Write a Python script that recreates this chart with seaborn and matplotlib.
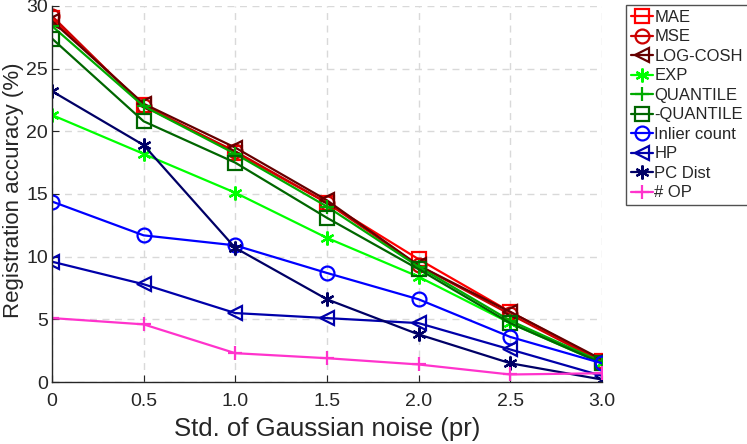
import matplotlib
matplotlib.use("Agg")
import matplotlib.pyplot as plt
import seaborn as sns
import pandas as pd

# ==============================
# DADOS
# ==============================
noise = [0, 0.5, 1.0, 1.5, 2.0, 2.5, 3.0]

mae = [29.0, 22.1, 18.3, 14.3, 9.8, 5.6, 1.7]
mse = [29.2, 22.0, 18.4, 14.3, 9.3, 5.4, 1.6]
log_cosh = [28.8, 22.2, 18.7, 14.5, 9.3, 5.6, 1.8]
exp_loss = [21.3, 18.2, 15.1, 11.5, 8.4, 4.7, 1.5]
quantile = [28.4, 22.0, 18.2, 14.0, 9.2, 4.9, 1.6]
neg_quantile = [27.4, 20.8, 17.5, 13.1, 9.0, 4.7, 1.5]
inlier_count = [14.4, 11.7, 10.9, 8.7, 6.6, 3.6, 1.5]
hp = [9.6, 7.8, 5.5, 5.1, 4.7, 2.6, 0.5]
pc_dist = [23.2, 18.9, 10.7, 6.6, 3.8, 1.5, 0.2]
num_op = [5.1, 4.6, 2.3, 1.9, 1.4, 0.6, 0.7]

labels = ["MAE", "MSE", "LOG-COSH", "EXP", "QUANTILE", "-QUANTILE",
          "Inlier count", "HP", "PC Dist", "# OP"]
series = [mae, mse, log_cosh, exp_loss, quantile, neg_quantile,
          inlier_count, hp, pc_dist, num_op]

# ==============================
# ESTILO
# ==============================
asterisk = (6, 2, 0)
colors = ["#FF0000", "#CC0000", "#660000", "#00FF00", "#00AA00", "#006600",
          "#0000FF", "#0000AA", "#000066", "#FF33CC"]
markers = ["s", "o", "<", asterisk, "+", "s", "o", "<", asterisk, "+"]

sns.set_style("ticks")
plt.rcParams["font.family"] = ["Liberation Sans", "DejaVu Sans"]

fig = plt.figure(figsize=(7.47, 4.44), dpi=100)
ax = fig.add_axes([0.0696, 0.1396, 0.736, 0.847])

for lab, vals, c, m in zip(labels, series, colors, markers):
    df = pd.DataFrame({"noise": noise, "acc": vals})
    sns.lineplot(data=df, x="noise", y="acc", ax=ax, color=c, marker=m,
                 markersize=10, markerfacecolor="none", markeredgecolor=c,
                 markeredgewidth=1.6, linewidth=1.6, label=lab)

ax.set_xlim(0, 3)
ax.set_ylim(0, 30)
ax.set_xticks(noise)
ax.set_xticklabels(["0", "0.5", "1.0", "1.5", "2.0", "2.5", "3.0"])
ax.set_yticks([0, 5, 10, 15, 20, 25, 30])
ax.grid(True, linestyle=(0, (5, 4)), color="#d9d9d9", linewidth=1)
ax.set_axisbelow(True)
for s in ["top", "right"]:
    ax.spines[s].set_visible(False)
for s in ["left", "bottom"]:
    ax.spines[s].set_color("#262626")
    ax.spines[s].set_linewidth(1.0)
ax.tick_params(direction="in", length=5, labelsize=14, colors="#262626")
ax.tick_params(axis="x", pad=8)
ax.tick_params(axis="y", pad=3)
ax.set_xlabel("Std. of Gaussian noise (pr)", fontsize=18.5, color="#262626",
              labelpad=5)
ax.set_ylabel("Registration accuracy (%)", fontsize=16, color="#262626")
ax.yaxis.set_label_coords(-0.051, 0.51)

leg = ax.legend(loc="upper left", bbox_to_anchor=(0.838, 0.989),
                bbox_transform=fig.transFigure, frameon=True, fancybox=False,
                fontsize=12, handlelength=1.3, handletextpad=0.1,
                labelspacing=0.27, borderpad=0.3, borderaxespad=0)
leg.get_frame().set_edgecolor("#262626")
leg.get_frame().set_linewidth(1.0)

fig.savefig("out.png", dpi=100)
